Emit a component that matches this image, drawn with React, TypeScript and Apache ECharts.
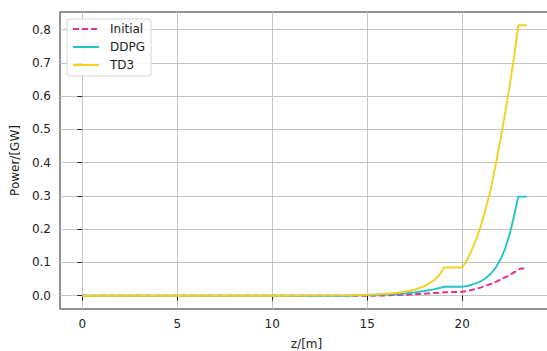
import React, { useEffect, useRef } from "react";
import * as echarts from "echarts";

const seriesNames = ["Initial", "DDPG", "TD3"];

const zPos = [
  0, 5, 10, 14, 15, 15.5, 16, 16.5, 17, 17.5, 18, 18.5, 18.8, 19.05, 20, 20.25, 20.5, 20.75,
  21, 21.25, 21.5, 21.75, 22, 22.25, 22.5, 22.75, 22.95, 23.1, 23.4,
];

const initialPower = [
  0, 0, 0, 0, 0, 0.0005, 0.001, 0.002, 0.003, 0.0045, 0.006, 0.008, 0.009, 0.01, 0.012, 0.014,
  0.017, 0.021, 0.025, 0.03, 0.035, 0.041, 0.048, 0.055, 0.062, 0.071, 0.078, 0.082, 0.082,
];

const ddpgPower = [
  0, 0, 0, 0, 0.002, 0.003, 0.004, 0.005, 0.007, 0.01, 0.014, 0.019, 0.023, 0.027, 0.027, 0.029,
  0.033, 0.038, 0.044, 0.053, 0.066, 0.083, 0.107, 0.14, 0.185, 0.245, 0.298, 0.298, 0.298,
];

const td3Power = [
  0, 0, 0, 0.001, 0.003, 0.004, 0.006, 0.008, 0.012, 0.018, 0.028, 0.045, 0.062, 0.085, 0.085,
  0.107, 0.137, 0.172, 0.213, 0.263, 0.32, 0.39, 0.465, 0.545, 0.632, 0.725, 0.813, 0.813, 0.813,
];

const xTicks = [0, 5, 10, 15, 20];
const yTicks = [0, 0.1, 0.2, 0.3, 0.4, 0.5, 0.6, 0.7, 0.8];

const colors = ["#e2318c", "#22c4c8", "#f2d11e"];

export default function App() {
  const ref = useRef<HTMLDivElement>(null);

  useEffect(() => {
    const chart = echarts.init(ref.current!, null, { renderer: "svg" });
    const pair = (vals: number[]) => zPos.map((z, i) => [z, vals[i]]);
    const font = "DejaVu Sans";
    const tickColor = "#262626";
    chart.setOption({
      animation: false,
      textStyle: { fontFamily: font },
      grid: {
        left: 60,
        top: 12,
        width: 493,
        height: 297,
        outerBoundsMode: "none",
        containLabel: false,
        show: true,
        borderColor: "#262626",
        borderWidth: 1,
        backgroundColor: "transparent",
      },
      legend: {
        orient: "vertical",
        left: 67,
        top: 19,
        data: seriesNames,
        itemWidth: 26,
        itemHeight: 14,
        itemGap: 6,
        padding: [4, 6, 5, 5],
        backgroundColor: "rgba(255,255,255,0.85)",
        borderColor: "#d4d4d4",
        borderWidth: 1,
        borderRadius: 3,
        itemStyle: { opacity: 0 },
        textStyle: { fontFamily: font, fontSize: 12, color: "#222", padding: [0, 0, 0, 6] },
      },
      xAxis: {
        type: "value",
        min: -1.17,
        max: 24.78,
        name: "z/[m]",
        nameLocation: "middle",
        nameGap: 29,
        nameTextStyle: { fontFamily: font, fontSize: 12, color: "#222" },
        axisLine: { show: false },
        axisTick: { show: true, length: 5, lineStyle: { color: tickColor }, customValues: xTicks },
        axisLabel: {
          fontFamily: font,
          fontSize: 12,
          color: "#222",
          margin: 9,
          customValues: xTicks,
          formatter: (v: number) => String(v),
        },
        splitLine: { show: true, lineStyle: { color: "#c4c4c4", width: 1 } },
      },
      yAxis: {
        type: "value",
        min: -0.04,
        max: 0.853,
        name: "Power/[GW]",
        nameLocation: "middle",
        nameGap: 34,
        nameRotate: 90,
        nameTextStyle: { fontFamily: font, fontSize: 12, color: "#222" },
        axisLine: { show: false },
        axisTick: { show: true, length: 5, lineStyle: { color: tickColor }, customValues: yTicks },
        axisLabel: {
          fontFamily: font,
          fontSize: 12,
          color: "#222",
          margin: 9,
          customValues: yTicks,
          formatter: (v: number) => v.toFixed(1),
        },
        splitLine: { show: true, lineStyle: { color: "#c4c4c4", width: 1 } },
      },
      series: [
        {
          name: seriesNames[0],
          type: "line",
          data: pair(initialPower),
          symbol: "none",
          lineStyle: { color: colors[0], width: 2, type: [6, 3] },
          itemStyle: { color: colors[0] },
          z: 3,
        },
        {
          name: seriesNames[1],
          type: "line",
          data: pair(ddpgPower),
          symbol: "none",
          lineStyle: { color: colors[1], width: 1.9 },
          itemStyle: { color: colors[1] },
          z: 4,
        },
        {
          name: seriesNames[2],
          type: "line",
          data: pair(td3Power),
          symbol: "none",
          lineStyle: { color: colors[2], width: 1.9 },
          itemStyle: { color: colors[2] },
          z: 5,
        },
      ],
    });
    return () => chart.dispose();
  }, []);

  return (
    <div
      ref={ref}
      style={{ position: "absolute", left: 0, top: 0, width: 547, height: 351, background: "#fff" }}
    />
  );
}
